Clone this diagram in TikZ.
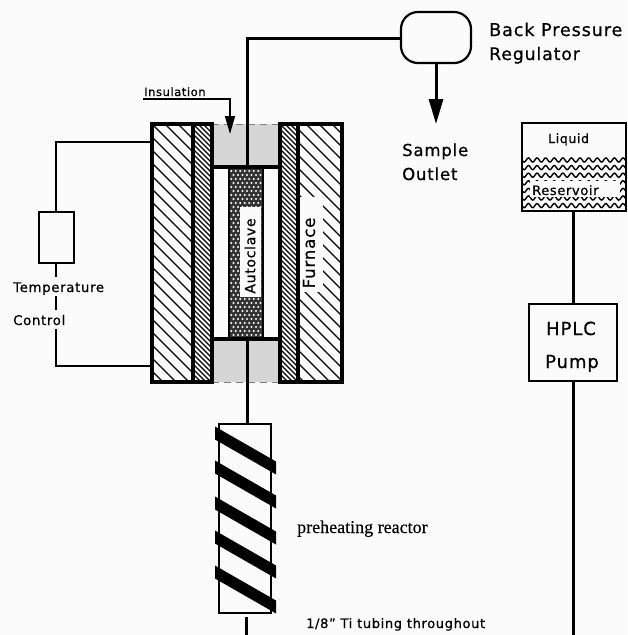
\documentclass[tikz,border=0pt]{standalone}
\usepackage{fontspec}
\setmainfont{DejaVu Sans}[LetterSpace=5,FakeBold=0.7]
\newfontfamily\serifface{Liberation Serif}[FakeBold=0.3]
\usetikzlibrary{arrows.meta}
\definecolor{paper}{HTML}{FBFBFB}
\definecolor{stip}{HTML}{D6D6D6}
\definecolor{autoc}{HTML}{333333}
\newcommand{\fs}[1]{\fontsize{#1}{#1}\selectfont}
\tikzset{
  tube/.style={line width=3pt,black},
  thin tube/.style={line width=2pt,black},
  wall/.style={line width=3.5pt,black,line cap=rect},
  boxed/.style={draw=black,line width=2.2pt,inner sep=0,outer sep=0,anchor=north west,fill=paper},
  label/.style={inner sep=0,anchor=base west,black},
  outflow/.style={tube,-{Triangle[length=25pt,width=14pt]}},
  callout/.style={line width=1.6pt,-{Triangle[length=18pt,width=10pt]}},
  dashedge/.style={gray,line width=1pt,dash pattern=on 7pt off 5pt},
}
\begin{document}
\begin{tikzpicture}[x=1pt,y=-1pt]
\useasboundingbox (0,0) rectangle (627,635);
\fill[paper] (0,0) rectangle (627,635);
% insulation
\fill[stip] (212,124) rectangle (280,167);
\fill[stip] (212,339) rectangle (280,382);
% outer hatch
\begin{scope}
\clip (152,124) rectangle (193,382);
\foreach \c in {-65,-52,...,260}
  \draw[line width=1.2pt] (152,124+\c) -- ++(45,45);
\end{scope}
\begin{scope}
\clip (298,124) rectangle (342,382);
\foreach \c in {-60,-47,...,270}
  \draw[line width=1.2pt] (298,124+\c) -- ++(50,50);
\end{scope}
\fill[paper] (300,197) rectangle (323,292);
% inner hatch
\begin{scope}
\clip (193,124) rectangle (212,382);
\foreach \c in {-20,-15,...,260}
  \draw[line width=1.1pt] (193,124+\c) -- ++(20,20);
\end{scope}
\begin{scope}
\clip (280,124) rectangle (298,382);
\foreach \c in {-20,-15,...,260}
  \draw[line width=1.1pt] (280,124+\c) -- ++(20,20);
\end{scope}
% chamber interior
\fill[paper] (212,167) rectangle (280,339);
% autoclave core
\fill[autoc] (229,167) rectangle (263,339);
\begin{scope}
\clip (229,167) rectangle (263,339);
\foreach \i in {0,...,43} {
  \pgfmathsetmacro{\ya}{167+4*\i}
  \pgfmathsetmacro{\off}{mod(\i,2)*2.25}
  \foreach \j in {0,...,8} {
    \fill[white] ({229+\off+4.5*\j},\ya) circle (1.2);
  }
}
\end{scope}
\fill[paper] (240,207) rectangle (261,297);
% furnace structure
\node[draw=black,line width=3.5pt,inner sep=0,outer sep=0,minimum width=190pt,minimum height=258pt,anchor=north west] (furnace) at (152,124) {};
\fill[paper] (213.5,121) rectangle (278.5,126);
\fill[stip] (213.5,124) rectangle (278.5,126);
\draw[dashedge] (212,124) -- (280,124);
\fill[paper] (213.5,380) rectangle (278.5,385);
\fill[stip] (213.5,380) rectangle (278.5,382);
\draw[dashedge] (212,382) -- (280,382);
\draw[wall] (193,124) -- (193,382);
\draw[wall] (212,124) -- (212,382);
\draw[wall] (280,124) -- (280,382);
\draw[wall] (298,124) -- (298,382);
\draw[wall] (212,167) -- (280,167);
\draw[wall] (212,339) -- (280,339);
\draw[line width=2.5pt] (229,167) -- (229,339);
\draw[line width=2.5pt] (263,167) -- (263,339);
\coordinate (auttop) at (247,167);
\coordinate (autbot) at (247,339);
\node[rotate=90,inner sep=0,black] (autlabel) at (250,256) {\fs{14}Autoclave};
\node[rotate=90,inner sep=0,black] (furnlabel) at (309,253) {\fs{16.6}Furnace};
% regulator
\node[boxed,fill=none,rounded corners=17pt,minimum width=70pt,minimum height=51pt] (bpr) at (401,12) {};
\coordinate (corner) at (247,38);
\draw[tube] (auttop) -- (corner) -- (bpr.west |- corner);
\coordinate (outlet) at (436,124);
\draw[outflow] (bpr.south -| outlet) -- (outlet);
\node[label] (bplabel) at (489,36) {\fs{17.6}Back Pressure};
\node[label] (reglabel) at (489,60) {\fs{17.3}Regulator};
\node[label] (samp) at (402,156) {\fs{16.5}Sample};
\node[label] (outl) at (402,180) {\fs{16.5}Outlet};
% insulation callout
\coordinate (insa) at (143,99);
\coordinate (insb) at (230,99);
\coordinate (insc) at (230,134);
\draw[callout] (insa) -- (insb) -- (insc);
\node[label] (inslabel) at (144,96) {\fs{11.5}Insulation};
% temperature control
\node[boxed,fill=none,minimum width=35pt,minimum height=51pt] (temp) at (39,212) {};
\coordinate (ta) at (56,142);
\coordinate (tb) at (56,366);
\coordinate (tg1) at (56,277);
\coordinate (tg2) at (56,296);
\coordinate (tg3) at (56,310);
\coordinate (tg4) at (56,329);
\draw[thin tube] (furnace.west |- ta) -- (ta) -- (temp.north -| ta);
\draw[thin tube] (temp.south -| tg1) -- (tg1);
\draw[thin tube] (tg2) -- (tg3);
\draw[thin tube] (tg4) -- (tb) -- (furnace.west |- tb);
\node[label] (templabel) at (13,292) {\fs{13.3}Temperature};
\node[label] (ctrllabel) at (13,325) {\fs{13.3}Control};
% reactor
\node[boxed,line width=1.6pt,minimum width=52pt,minimum height=189pt] (reactor) at (219,424) {};
\coordinate (rtube) at (246,617);
\coordinate (rend) at (246,635);
\draw[tube] (autbot) -- (autbot |- reactor.north);
\draw[tube] (rtube) -- (rend);
\foreach \ys in {433,467,503,537,572}
  \fill[black] (215,\ys-6.5) -- (215,\ys+6.5) -- (276,\ys+35+6.5) -- (276,\ys+35-6.5) -- cycle;
\node[label,font=\serifface] (prelabel) at (297,533) {\fs{18}preheating reactor};
\node[label] (tilabel) at (306,628) {\fs{13}1/8" Ti tubing throughout};
% reservoir
\node[boxed,minimum width=104pt,minimum height=88pt] (res) at (522,123) {};
\begin{scope}
\clip (522,156) rectangle (626,211);
\foreach \yy in {160,167.6,...,209}
  \draw[line width=1.4pt] plot[domain=0:104,samples=100] ({522+\x},{\yy+2.1*sin(\x*41.86)});
\end{scope}
\fill[paper] (530,181) rectangle (620,197);
\node[boxed,fill=none,minimum width=104pt,minimum height=88pt] (resb) at (522,123) {};
\node[label] (liq) at (548,143) {\fs{12.5}Liquid};
\node[label] (rsv) at (532,195) {\fs{13}Reservoir};
% pump
\node[boxed,minimum width=88pt,minimum height=77pt] (pump) at (529,304) {};
\coordinate (pumpend) at (573,635);
\draw[tube] (resb.south -| pumpend) -- (pump.north -| pumpend);
\draw[tube] (pump.south -| pumpend) -- (pumpend);
\node[label,anchor=base] (hplc) at (571,335) {\fs{18}HPLC};
\node[label,anchor=base] (pmp) at (572,368) {\fs{18}Pump};
\end{tikzpicture}
\end{document}
